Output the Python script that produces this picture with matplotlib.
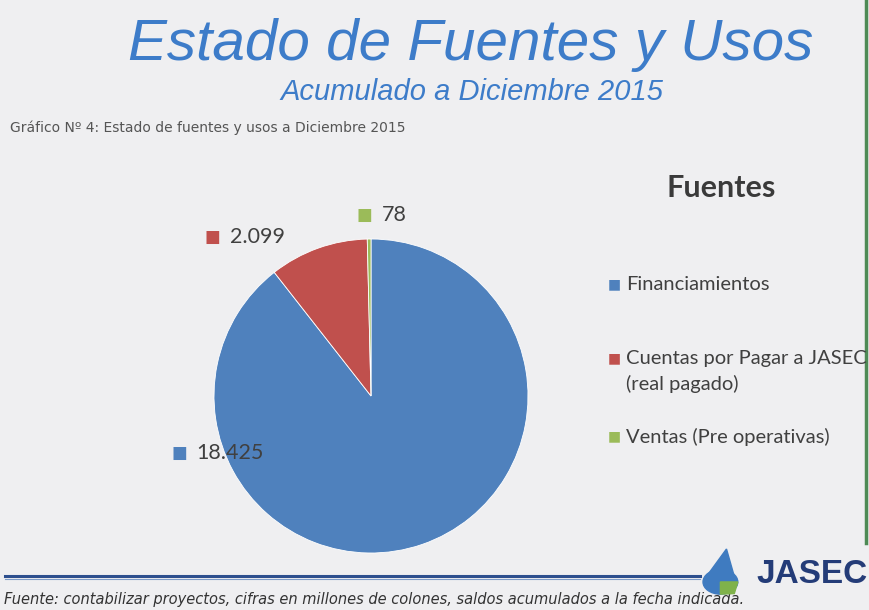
import matplotlib.pyplot as plt
from matplotlib.patches import Polygon, Circle

# Datos (millones de colones)
categorias = ['Financiamientos', 'Cuentas por Pagar a JASEC\n(real pagado)', 'Ventas (Pre operativas)']
valores = [18425, 2099, 78]
etiquetas = ['18.425', '2.099', '78']
colores = ['#4F81BD', '#C0504D', '#9BBB59']

# posiciones de las etiquetas (coordenadas del pie, radio 1)
pos_etiquetas = [(-1.27, -0.36), (-1.06, 1.01), (-0.09, 1.15)]
# posiciones de la leyenda (fraccion de figura)
pos_leyenda = [0.534, 0.413, 0.284]

fondo = '#EFEFF1'
fig = plt.figure(figsize=(8.69, 6.10), dpi=100, facecolor=fondo)

# Titulos
fig.text(0.542, 0.927, 'Estado de Fuentes y Usos', fontsize=42, style='italic',
         family='Liberation Sans', color='#3D7CC9', ha='center', va='center')
fig.text(0.543, 0.850, 'Acumulado a Diciembre 2015', fontsize=21, style='italic',
         family='Liberation Sans', color='#3D7CC9', ha='center', va='center')
fig.text(0.012, 0.790, 'Gráfico Nº 4: Estado de fuentes y usos a Diciembre 2015', fontsize=10,
         family='DejaVu Sans', color='#555555', ha='left', va='center')

# Pie
ax = fig.add_axes([(371 - 157) / 869, 57 / 610, 314 / 869, 314 / 610])
ax.set_facecolor(fondo)
wedges, _ = ax.pie(valores, colors=colores, startangle=90, counterclock=False,
                   wedgeprops=dict(linewidth=0.6, edgecolor='white'))
ax.set_xlim(-1, 1)
ax.set_ylim(-1, 1)
ax.set_aspect('equal')

for (x, y), txt, c in zip(pos_etiquetas, etiquetas, colores):
    ax.text(x, y, '■', color=c, fontsize=12, ha='left', va='center', clip_on=False)
    ax.annotate(txt, xy=(x, y), xytext=(18, 0), textcoords='offset points',
                fontsize=15.5, family='Lato', color='#404040', ha='left', va='center',
                annotation_clip=False)

# Leyenda
fig.text(0.830, 0.692, 'Fuentes', fontsize=22, fontweight='bold', family='Lato',
         color='#3A3A3A', ha='center', va='center')
for y, cat, c in zip(pos_leyenda, categorias, colores):
    lineas = cat.split('\n')
    fig.text(0.699, y, '■', color=c, fontsize=10, ha='left', va='center')
    for i, l in enumerate(lineas):
        fig.text(0.720, y - i * 0.043, l, fontsize=14.5, family='Lato', color='#404040',
                 ha='left', va='center')

# Borde derecho verde
fig.add_artist(plt.Line2D([0.997, 0.997], [0.11, 1.0], color='#4E8A55', lw=2.5))

# Linea inferior y pie de pagina
fig.add_artist(plt.Line2D([0.006, 0.805], [0.056, 0.056], color='#2D4F8E', lw=2.2))
fig.add_artist(plt.Line2D([0.006, 0.805], [0.051, 0.051], color='#7E9CC8', lw=0.8))
fig.text(0.005, 0.018, 'Fuente: contabilizar proyectos, cifras en millones de colones, saldos acumulados a la fecha indicada.',
         fontsize=10.5, style='italic', family='DejaVu Sans', color='#333333', ha='left', va='center')

# Logo JASEC
fig.add_artist(Circle((0.829, 0.046), 0.020, transform=fig.transFigure, color='#3F7BC0', zorder=3))
fig.add_artist(Polygon([(0.813, 0.055), (0.845, 0.055), (0.836, 0.100)], closed=True,
                       transform=fig.transFigure, color='#3F7BC0', zorder=3))
fig.add_artist(Polygon([(0.829, 0.046), (0.849, 0.046), (0.845, 0.027), (0.829, 0.026)], closed=True,
                       transform=fig.transFigure, color='#7FB24A', zorder=4))
fig.text(0.935, 0.058, 'JASEC', fontsize=24, fontweight='bold', family='Liberation Sans',
         color='#243C78', ha='center', va='center')

fig.savefig('out.png', dpi=100, facecolor=fondo)
